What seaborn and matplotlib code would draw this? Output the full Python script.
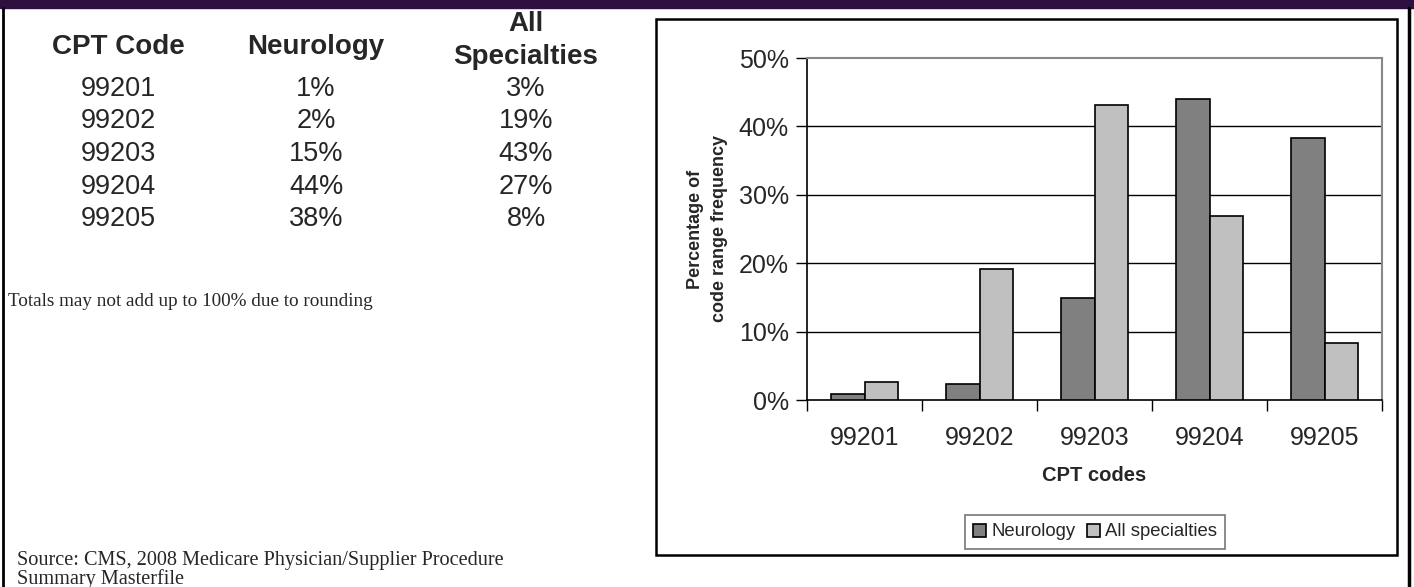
import matplotlib
matplotlib.use("Agg")
import matplotlib.pyplot as plt
import matplotlib.patches as mpatches
import seaborn as sns
import pandas as pd

# data
codes = ["99201", "99202", "99203", "99204", "99205"]
neurology = [0.9, 2.4, 14.9, 44.0, 38.3]
all_specialties = [2.6, 19.2, 43.1, 26.9, 8.3]
table_neuro = ["1%", "2%", "15%", "44%", "38%"]
table_all = ["3%", "19%", "43%", "27%", "8%"]
y_ticks = [0, 10, 20, 30, 40, 50]

W, H = 1414, 587

sns.set_style("white")
plt.rcParams['font.family'] = ['Liberation Sans', 'DejaVu Sans']

fig = plt.figure(figsize=(W / 100, H / 100), dpi=100)


def fx(x):
    return x / W


def fy(y):
    return 1 - y / H


# frame: purple band and side lines
fig.patches.append(mpatches.Rectangle((0, fy(8)), 1, 8 / H, transform=fig.transFigure,
                                      color="#2d1040", zorder=0))
fig.add_artist(plt.Line2D([fx(3), fx(3)], [0, fy(8)], color="black", lw=2))
fig.add_artist(plt.Line2D([fx(1409), fx(1409)], [0, fy(8)], color="black", lw=2.5))

# table on the left
col_x = [118, 316, 526]
fig.text(fx(col_x[0]), fy(47), "CPT Code", ha="center", va="center", fontsize=20, fontweight="bold")
fig.text(fx(col_x[1]), fy(47), "Neurology", ha="center", va="center", fontsize=20, fontweight="bold")
fig.text(fx(col_x[2]), fy(24), "All", ha="center", va="center", fontsize=20, fontweight="bold")
fig.text(fx(col_x[2]), fy(57), "Specialties", ha="center", va="center", fontsize=20, fontweight="bold")
for i, code in enumerate(codes):
    yy = fy(89 + 32.5 * i)
    fig.text(fx(col_x[0]), yy, code, ha="center", va="center", fontsize=19.5)
    fig.text(fx(col_x[1]), yy, table_neuro[i], ha="center", va="center", fontsize=19.5)
    fig.text(fx(col_x[2]), yy, table_all[i], ha="center", va="center", fontsize=19.5)

fig.text(fx(8), fy(302), "Totals may not add up to 100% due to rounding", ha="left", va="center",
         fontsize=13.8, family="Liberation Serif")
fig.text(fx(17), fy(560), "Source: CMS, 2008 Medicare Physician/Supplier Procedure",
         ha="left", va="center", fontsize=14.6, family="Liberation Serif")
fig.text(fx(17), fy(579), "Summary Masterfile",
         ha="left", va="center", fontsize=14.6, family="Liberation Serif")

# chart box
fig.patches.append(mpatches.Rectangle((fx(656), fy(555)), fx(1397 - 656), (555 - 19) / H,
                                      transform=fig.transFigure, fill=False, edgecolor="black",
                                      lw=1.8, zorder=1))

# bar chart
ax = fig.add_axes([fx(807), fy(400), fx(1382 - 807), (400 - 58) / H])
df = pd.DataFrame({
    "code": codes * 2,
    "value": neurology + all_specialties,
    "group": ["Neurology"] * 5 + ["All specialties"] * 5,
})
sns.barplot(data=df, x="code", y="value", hue="group", ax=ax, width=0.575,
            palette=["#808080", "#c0c0c0"], edgecolor="black", linewidth=1.2,
            saturation=1, zorder=3)

ax.set_ylim(0, 50)
ax.set_xlim(-0.5, 4.5)
ax.set_yticks(y_ticks)
ax.set_yticklabels([f"{t}%" for t in y_ticks], fontsize=18)
ax.tick_params(axis="y", direction="out", length=8, width=1, color="black", pad=5, left=True)
ax.set_xticks(range(5))
ax.set_xticklabels(codes, fontsize=18)
ax.set_xticks([i - 0.5 for i in range(6)], minor=True)
ax.tick_params(axis="x", which="major", length=0, pad=19)
ax.tick_params(axis="x", which="minor", direction="out", length=8, width=1, color="black", bottom=True)
for t in y_ticks[1:-1]:
    ax.axhline(t, color="black", lw=1, zorder=1)
for side in ["left", "bottom"]:
    ax.spines[side].set_color("black")
    ax.spines[side].set_linewidth(1.2)
for side in ["top", "right"]:
    ax.spines[side].set_color("#888888")
    ax.spines[side].set_linewidth(1.5)

ax.set_xlabel("CPT codes", fontsize=14.5, fontweight="bold", labelpad=11)
ax.set_ylabel("Percentage of\ncode range frequency", fontsize=13, fontweight="bold", labelpad=8,
              linespacing=1.55)

ax.legend(loc="center", ncol=2, fontsize=13.3, frameon=True, fancybox=False, edgecolor="#555555",
          handlelength=0.7, handleheight=0.7, handletextpad=0.3, columnspacing=0.6,
          borderpad=0.45)
leg = ax.get_legend()
leg.set_bbox_to_anchor((fx(1095), fy(532)), transform=fig.transFigure)
leg.get_frame().set_linewidth(1.2)

fig.savefig("out.png", dpi=100)
